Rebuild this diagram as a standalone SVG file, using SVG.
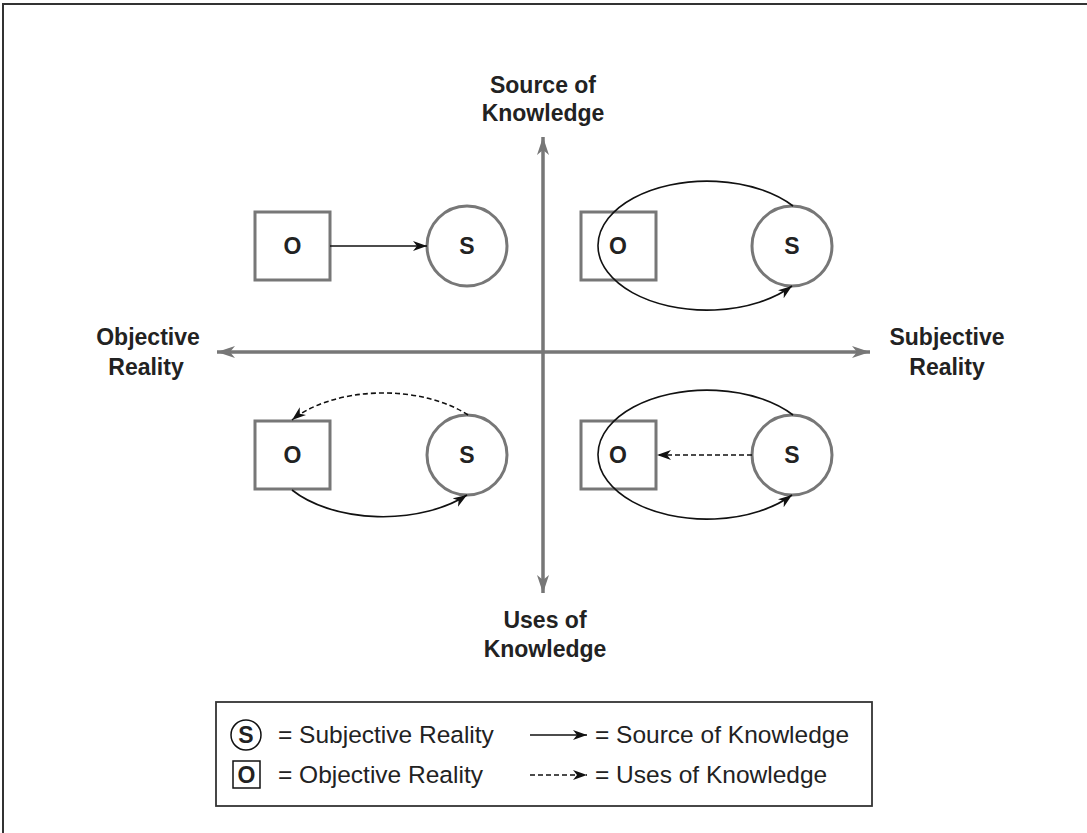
<svg xmlns="http://www.w3.org/2000/svg" width="1087" height="833" viewBox="0 0 1087 833">
<style>
.lbl{font-family:"Liberation Sans",Arial,sans-serif;font-weight:bold;font-size:23px;fill:#222;text-anchor:middle}
.node{font-family:"Liberation Sans",Arial,sans-serif;font-weight:bold;font-size:23px;fill:#222;text-anchor:middle}
.leg{font-family:"Liberation Sans",Arial,sans-serif;font-size:24.5px;fill:#222}
.shape{fill:#fff;stroke:#777;stroke-width:3}
.axis{stroke:#777;stroke-width:3;fill:none}
.con{stroke:#111;stroke-width:1.6;fill:none}
.dash{stroke-dasharray:5 3}
</style>
<defs>
<marker id="ah" markerUnits="userSpaceOnUse" markerWidth="20" markerHeight="14" refX="18" refY="6" orient="auto">
<path d="M0,0 L18,6 L0,12 L5,6 z" fill="#777"/>
</marker>
<marker id="bh" markerUnits="userSpaceOnUse" markerWidth="16" markerHeight="12" refX="14" refY="5" orient="auto">
<path d="M0,0 L14,5 L0,10 L4,5 z" fill="#111"/>
</marker>
</defs>
<rect width="1087" height="833" fill="#fff"/>
<path d="M3,833 L3,4 L1087,4" fill="none" stroke="#333" stroke-width="2"/>

<g id="axes">
<line class="axis" x1="543" y1="593" x2="543" y2="137" marker-end="url(#ah)"/>
<line class="axis" x1="543" y1="137" x2="543" y2="593" marker-end="url(#ah)"/>
<line class="axis" x1="870" y1="352" x2="217" y2="352" marker-end="url(#ah)"/>
<line class="axis" x1="217" y1="352" x2="870" y2="352" marker-end="url(#ah)"/>
</g>

<g id="axis-labels">
<text class="lbl" x="543" y="93">Source of</text>
<text class="lbl" x="543" y="121">Knowledge</text>
<text class="lbl" x="545" y="628">Uses of</text>
<text class="lbl" x="545" y="657">Knowledge</text>
<text class="lbl" x="148" y="345">Objective</text>
<text class="lbl" x="146" y="375">Reality</text>
<text class="lbl" x="947" y="345">Subjective</text>
<text class="lbl" x="947" y="375">Reality</text>
</g>

<g id="q1-O"><rect class="shape" x="255" y="212" width="75" height="68"/><text class="node" x="292.5" y="254">O</text></g>
<g id="q1-S"><circle class="shape" cx="467" cy="246" r="40"/><text class="node" x="467" y="254">S</text></g>
<g id="q2-O"><rect class="shape" x="581" y="212" width="75" height="68"/><text class="node" x="618" y="254">O</text></g>
<g id="q2-S"><circle class="shape" cx="792" cy="246" r="40"/><text class="node" x="792" y="254">S</text></g>
<g id="q3-O"><rect class="shape" x="255" y="421" width="75" height="68"/><text class="node" x="292.5" y="463">O</text></g>
<g id="q3-S"><circle class="shape" cx="467" cy="455" r="40"/><text class="node" x="467" y="463">S</text></g>
<g id="q4-O"><rect class="shape" x="581" y="421" width="75" height="68"/><text class="node" x="618" y="463">O</text></g>
<g id="q4-S"><circle class="shape" cx="792" cy="455" r="40"/><text class="node" x="792" y="463">S</text></g>

<g id="connectors">
<line class="con" x1="330" y1="246" x2="427" y2="246" marker-end="url(#bh)"/>
<path class="con" d="M793,206 A109,64.5 0 1 0 792,286" marker-end="url(#bh)"/>
<path class="con dash" d="M468,415 A112,64 0 0 0 292,420" marker-end="url(#bh)"/>
<path class="con" d="M292,490 A112,64 0 0 0 467,495" marker-end="url(#bh)"/>
<path class="con" d="M793,415 A109,64.5 0 1 0 792,495" marker-end="url(#bh)"/>
<line class="con dash" x1="752" y1="455" x2="657" y2="455" marker-end="url(#bh)"/>
</g>

<g id="legend">
<rect x="216" y="702" width="656" height="104" fill="none" stroke="#333" stroke-width="1.8"/>
<circle cx="246" cy="735" r="15" fill="#fff" stroke="#111" stroke-width="1.5"/>
<text class="node" x="246" y="743">S</text>
<text class="leg" x="278" y="743">= Subjective Reality</text>
<rect x="233" y="761" width="27" height="27" fill="#fff" stroke="#111" stroke-width="1.5"/>
<text class="node" x="246.5" y="783">O</text>
<text class="leg" x="278" y="783">= Objective Reality</text>
<line class="con" x1="530" y1="735" x2="587" y2="735" marker-end="url(#bh)"/>
<text class="leg" x="595" y="743">= Source of Knowledge</text>
<line class="con dash" x1="530" y1="775" x2="587" y2="775" stroke-dasharray="3 2" marker-end="url(#bh)"/>
<text class="leg" x="595" y="783">= Uses of Knowledge</text>
</g>
</svg>
